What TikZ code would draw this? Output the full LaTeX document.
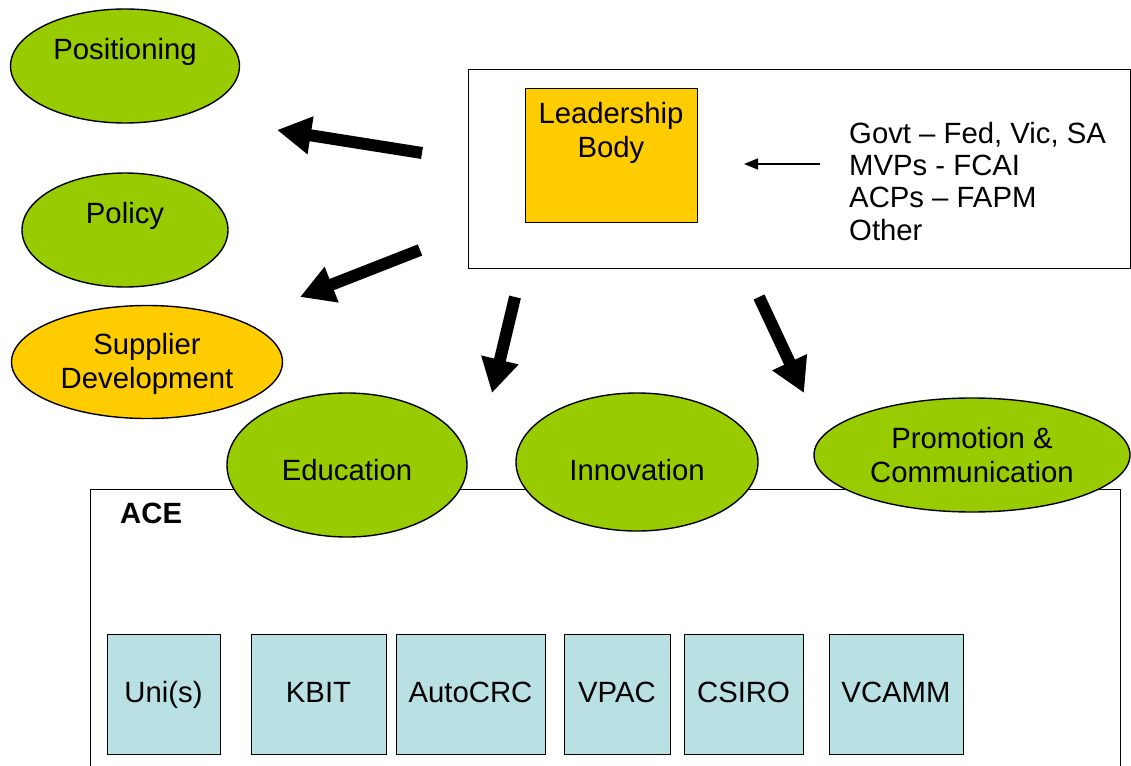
\documentclass[tikz,border=0pt]{standalone}
\usepackage{fontspec}
\setmainfont{Liberation Sans}
\usetikzlibrary{shapes.geometric,arrows.meta}
\definecolor{lgreen}{HTML}{99CC00}
\definecolor{lorange}{HTML}{FFCC00}
\definecolor{lblue}{HTML}{B9E0E3}
\begin{document}
\begin{tikzpicture}[x=1pt,y=-1pt,
  every node/.style={font=\fontsize{29.3}{33}\selectfont},
  oval/.style={ellipse, draw, line width=1.4pt, inner sep=0pt},
  txt/.style={anchor=base, inner sep=0pt},
  frame/.style={draw, line width=1.4pt, anchor=north west, inner sep=0pt},
  unit/.style={frame, fill=lblue},
  big/.style={line width=12pt, -{Triangle[width=36pt,length=34pt]}},
  thin/.style={line width=1.5pt, -{Triangle[width=11pt,length=14pt]}}
]
\useasboundingbox (0,0) rectangle (1131,765);

% left ellipses
\node[oval, fill=lgreen, minimum width=229pt, minimum height=114pt] (pos) at (125,66) {};
\node[txt] (posT) at (125,60) {Positioning};
\node[oval, fill=lgreen, minimum width=206pt, minimum height=114pt] (pol) at (125,230) {};
\node[txt] (polT) at (125,223) {Policy};
\node[oval, fill=lorange, minimum width=271pt, minimum height=113pt] (sup) at (147,362) {};
\node[txt] (supT1) at (147,354) {Supplier};
\node[txt] (supT2) at (147,388) {Development};

% top-right frame
\node[frame, minimum width=662pt, minimum height=199pt] (top) at (468,69) {};
\node[frame, fill=lorange, minimum width=172pt, minimum height=134pt] (lead) at (525,88) {};
\node[txt] (leadT1) at (611,123) {Leadership};
\node[txt] (leadT2) at (611,157) {Body};
\node[txt, anchor=base west] (l1) at (849,143) {Govt – Fed, Vic, SA};
\node[txt, anchor=base west] (l2) at (849,175) {MVPs - FCAI};
\node[txt, anchor=base west] (l3) at (849,207) {ACPs – FAPM};
\node[txt, anchor=base west] (l4) at (849,240) {Other};
\coordinate (ts) at (820,164);
\coordinate (te) at (744,164);
\draw[thin] (ts) -- (te);

% ACE frame
\node[frame, minimum width=1030pt, minimum height=300pt] (ace) at (90,489) {};
\node[txt, anchor=base west, font=\fontsize{29.3}{33}\selectfont\bfseries] (aceT) at (120,523) {ACE};

% middle ellipses
\node[oval, fill=lgreen, minimum width=240pt, minimum height=144pt] (edu) at (347,465) {};
\node[txt] (eduT) at (347,480) {Education};
\node[oval, fill=lgreen, minimum width=242pt, minimum height=138pt] (inn) at (637,462) {};
\node[txt] (innT) at (637,480) {Innovation};
\node[oval, fill=lgreen, minimum width=316pt, minimum height=114pt] (pro) at (972,455) {};
\node[txt] (proT1) at (972,448) {Promotion \&};
\node[txt] (proT2) at (972,482) {Communication};

% units
\node[unit, minimum width=113pt, minimum height=120pt] (uni) at (107,634) {};
\node[txt] at (163.5,702) {Uni(s)};
\node[unit, minimum width=135pt, minimum height=120pt] (kbit) at (251,634) {};
\node[txt] at (318.5,702) {KBIT};
\node[unit, minimum width=149pt, minimum height=120pt] (auto) at (396,634) {};
\node[txt] at (470.5,702) {AutoCRC};
\node[unit, minimum width=106pt, minimum height=120pt] (vpac) at (564,634) {};
\node[txt] at (617,702) {VPAC};
\node[unit, minimum width=119pt, minimum height=120pt] (csiro) at (684,634) {};
\node[txt] at (743.5,702) {CSIRO};
\node[unit, minimum width=134pt, minimum height=120pt] (vcamm) at (829,634) {};
\node[txt] at (896,702) {VCAMM};

% thick arrows
\coordinate (a1s) at (422,153);
\coordinate (a1e) at (277,130);
\coordinate (a2s) at (420,250);
\coordinate (a2e) at (300,297);
\coordinate (a3s) at (515,297);
\coordinate (a3e) at (492,393);
\coordinate (a4s) at (759,297);
\coordinate (a4e) at (804,393);
\draw[big] (a1s) -- (a1e);
\draw[big] (a2s) -- (a2e);
\draw[big] (a3s) -- (a3e);
\draw[big] (a4s) -- (a4e);
\end{tikzpicture}
\end{document}
